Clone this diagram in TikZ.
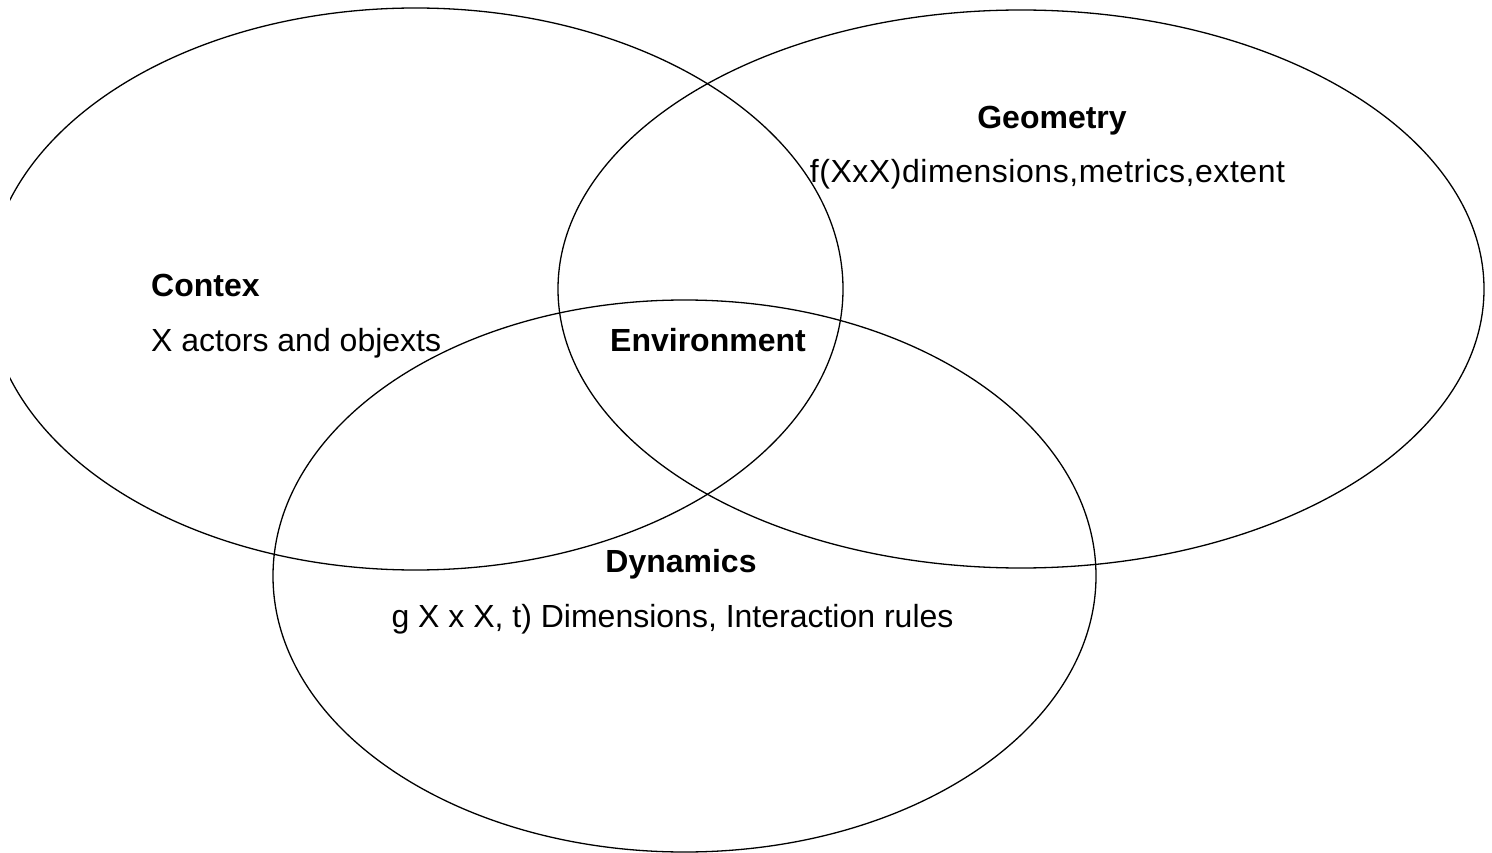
\documentclass[tikz,border=0pt]{standalone}
\usepackage{fontspec}
\setmainfont{Liberation Sans}
\usetikzlibrary{shapes.geometric}
\begin{document}
\begin{tikzpicture}[x=1pt,y=-1pt,
  setring/.style={draw=black, line width=1.3pt, ellipse, inner sep=0pt, outer sep=0pt},
  title/.style={font=\fontsize{32}{38}\selectfont\bfseries, inner sep=0pt},
  body/.style={font=\fontsize{32}{38}\selectfont, inner sep=0pt}]
\useasboundingbox (0,0) rectangle (1492,853);
\fill[white] (0,0) rectangle (1492,853);
\begin{scope}
\clip (10,-5) rectangle (1500,860);
\node[setring, minimum width=855pt, minimum height=562pt] (contexring) at (415.5,289) {};
\node[setring, minimum width=926pt, minimum height=558pt] (geomring) at (1021,289) {};
\node[setring, minimum width=823pt, minimum height=552pt] (dynring) at (684.5,576) {};
\end{scope}
\node[title, anchor=base west] (contex) at (151,297) {Contex};
\node[body, anchor=base west] (contexbody) at (151,351) {X actors and objexts};
\node[title, anchor=base] (geom) at (1052,129) {Geometry};
\node[body, anchor=base] (geombody) at (1047.5,183) {\addfontfeature{LetterSpace=1.7}f(XxX)dimensions,metrics,extent};
\node[title, anchor=base] (env) at (708,351) {Environment};
\node[title, anchor=base] (dyn) at (681,572) {Dynamics};
\node[body, anchor=base] (dynbody) at (672.5,627) {g X x X, t) Dimensions, Interaction rules};
\end{tikzpicture}
\end{document}
